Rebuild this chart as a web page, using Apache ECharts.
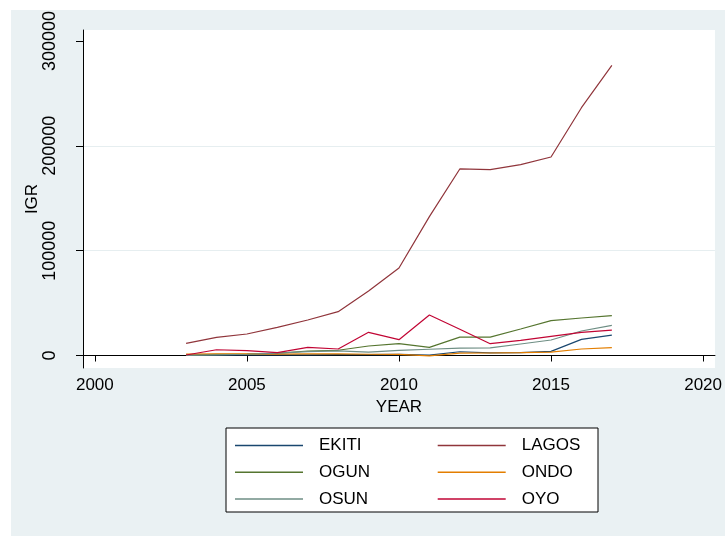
<!DOCTYPE html>
<html>
<head>
<meta charset="utf-8">
<script src="https://cdn.jsdelivr.net/npm/echarts@6/dist/echarts.min.js"></script>
<style>
  html, body { margin: 0; padding: 0; background: #fff; }
  #chart { width: 725px; height: 536px; }
</style>
</head>
<body>
<div id="chart"></div>
<script>
// 年份與各州 IGR 數值
const years = [2003, 2004, 2005, 2006, 2007, 2008, 2009, 2010, 2011, 2012, 2013, 2014, 2015, 2016, 2017];
const ekiti = [300, 400, 500, 600, 700, 800, 900, 1000, 300, 3600, 2500, 2800, 4000, 15400, 19500];
const lagos = [11600, 17300, 20500, 26900, 33900, 41800, 61500, 83400, 132400, 177900, 177200, 182000, 189300, 236300, 276700];
const ogun = [500, 1000, 1400, 2100, 4300, 5000, 9100, 11300, 7800, 17600, 17600, 25300, 33200, 35800, 38000];
const ondo = [1400, 1600, 1500, 1400, 1500, 1500, 1200, 1000, -300, 2200, 2400, 2700, 3300, 6200, 7500];
const osun = [200, 700, 1200, 2200, 3800, 4400, 3200, 5000, 6000, 7000, 7200, 11000, 14800, 23400, 28800];
const oyo = [500, 5500, 4600, 2700, 7800, 6200, 22100, 15100, 38600, 25000, 11300, 14500, 18300, 22100, 24300];

const xTicks = [2000, 2005, 2010, 2015, 2020];
const yTicks = [0, 100000, 200000, 300000];

const stateNames = ['EKITI', 'LAGOS', 'OGUN', 'ONDO', 'OSUN', 'OYO'];
const stateValues = [ekiti, lagos, ogun, ondo, osun, oyo];
const stateColors = ['#1a476f', '#90353b', '#55752f', '#e37e00', '#6e8e84', '#c10534'];

const chart = echarts.init(document.getElementById('chart'), null, { renderer: 'canvas' });

const font = 'Liberation Sans, Arial, sans-serif';

// 組合 series
const series = stateNames.map((name, i) => ({
  name: name,
  type: 'line',
  symbol: 'none',
  color: stateColors[i],
  lineStyle: { width: 1.2, color: stateColors[i] },
  emphasis: { disabled: true },
  data: years.map((y, j) => [y, stateValues[i][j]]),
}));

// 圖例共用設定
const legendBase = {
  orient: 'vertical',
  top: 437,
  padding: 0,
  itemGap: 9.7,
  itemWidth: 68,
  itemHeight: 1.5,
  icon: 'rect',
  selectedMode: false,
  textStyle: { fontFamily: font, fontSize: 17, color: '#000', lineHeight: 16, padding: [0, 0, 0, 11] },
};

const option = {
  backgroundColor: '#fff',
  animation: false,
  graphic: [
    {
      type: 'rect',
      z: -10,
      shape: { x: 11, y: 10, width: 714, height: 526 },
      style: { fill: '#eaf1f3' },
    },
    {
      type: 'rect',
      z: 0,
      shape: { x: 226, y: 428, width: 372, height: 84 },
      style: { fill: '#fff', stroke: '#000', lineWidth: 1 },
    },
  ],
  grid: {
    left: 83,
    right: 5,
    top: 30,
    bottom: 168,
    show: true,
    backgroundColor: '#fff',
    borderWidth: 0,
  },
  legend: [
    Object.assign({}, legendBase, { left: 235, data: ['EKITI', 'OGUN', 'OSUN'] }),
    Object.assign({}, legendBase, { left: 437.7, data: ['LAGOS', 'ONDO', 'OYO'] }),
  ],
  xAxis: {
    type: 'value',
    min: 1999.61,
    max: 2020.39,
    name: 'YEAR',
    nameLocation: 'middle',
    nameGap: 31,
    nameMoveOverlap: false,
    nameTextStyle: { fontFamily: font, fontSize: 17, color: '#000', verticalAlign: 'top' },
    axisLine: { show: true, lineStyle: { color: '#000', width: 1 } },
    axisTick: { show: true, length: 6, customValues: xTicks, lineStyle: { color: '#000' } },
    axisLabel: { customValues: xTicks, margin: 9, fontFamily: font, fontSize: 17, color: '#000', formatter: (v) => String(v) },
    splitLine: { show: false },
  },
  yAxis: {
    type: 'value',
    min: -11900,
    max: 310400,
    name: 'IGR',
    nameLocation: 'middle',
    nameGap: 42,
    nameRotate: 90,
    nameMoveOverlap: false,
    nameTextStyle: { fontFamily: font, fontSize: 17, color: '#000' },
    axisLine: { show: true, lineStyle: { color: '#000', width: 1 } },
    axisTick: { show: true, length: 7, customValues: yTicks, lineStyle: { color: '#000' } },
    axisLabel: { customValues: yTicks, rotate: 90, margin: 24, fontFamily: font, fontSize: 18, color: '#000', formatter: (v) => String(v) },
    splitLine: { show: true, showMinLine: false, showMaxLine: false, lineStyle: { color: '#e6eef0', width: 1 } },
  },
  series: series,
};

chart.setOption(option);
</script>
</body>
</html>
